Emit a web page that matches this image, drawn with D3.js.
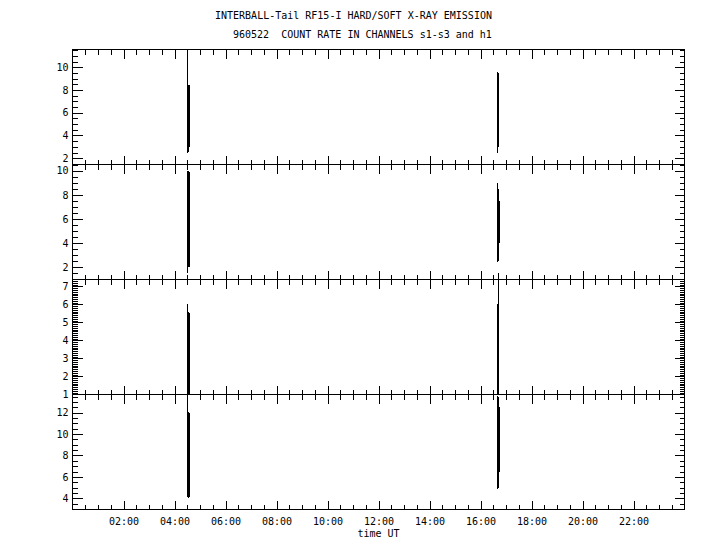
<!DOCTYPE html>
<html>
<head>
<script src="https://d3js.org/d3.v7.min.js"></script>
<style>
  body { margin: 0; background: #fff; }
  svg { display: block; }
  text { font-family: "DejaVu Sans Mono", monospace; font-size: 10px; fill: #000; white-space: pre; }
  .tick line, .frame { stroke: #000; shape-rendering: crispEdges; }
  .trace { fill: none; stroke: #000; stroke-width: 1; shape-rendering: crispEdges; }
</style>
</head>
<body>
<svg width="720" height="550"></svg>
<script>
// count rates, time in hours UT
var s1Time = [4.52, 4.53, 4.55, 4.56, 4.57, 4.58, 16.67, 16.68, 16.69, 16.70, 16.71];
var s1Rate = [11.1, 2.45, 8.45, 2.9, 8.4, 3.0, 2.45, 9.55, 2.95, 9.5, 3.0];

var s2Time = [4.52, 4.53, 4.55, 4.56, 4.58, 4.59, 4.60, 16.67, 16.68, 16.69, 16.70, 16.71, 16.72, 16.73, 16.74, 16.75, 16.76];
var s2Rate = [1.5, 10.0, 2.0, 10.0, 2.0, 9.9, 2.1, 9.0, 2.45, 8.45, 2.5, 8.4, 2.6, 7.5, 4.0, 7.5, 4.0];

var s3Time = [4.52, 4.53, 4.55, 4.56, 4.57, 4.58, 16.67, 16.68, 16.69, 16.70, 16.72, 16.72];
var s3Rate = [6.0, 0.99, 5.55, 0.99, 5.5, 0.99, 6.0, 0.99, 6.0, 0.99, 7.75, 0.99];

var h1Time = [4.52, 4.53, 4.55, 4.56, 4.57, 4.58, 16.67, 16.68, 16.69, 16.70, 16.72, 16.73, 16.74, 16.75];
var h1Rate = [13.6, 4.1, 12.1, 4.05, 12.0, 4.1, 13.6, 4.9, 13.5, 5.0, 12.5, 6.5, 12.5, 6.5];

// y ranges and tick labels per panel
var yRanges = [[1.45, 11.56], [0.99, 10.51], [0.99, 7.38], [2.95, 13.7]];
var yLabels = [[2, 4, 6, 8, 10], [2, 4, 6, 8, 10], [1, 2, 3, 4, 5, 6, 7], [4, 6, 8, 10, 12]];
var yMinorStep = [0.5, 0.5, 0.1, 0.5];

var timeMajor = [2, 4, 6, 8, 10, 12, 14, 16, 18, 20, 22];
var timeLabels = ["02:00", "04:00", "06:00", "08:00", "10:00", "12:00",
                  "14:00", "16:00", "18:00", "20:00", "22:00"];

var svg = d3.select("svg");
var left = 72.5, right = 684.5, top0 = 49.5, panelH = 115;

var x = d3.scaleLinear().domain([0, 24]).range([left, right]);
var timeMinor = d3.range(0.5, 24, 0.5);

// title
svg.append("text").attr("x", 215).attr("y", 18.5)
  .text("INTERBALL-Tail RF15-I HARD/SOFT X-RAY EMISSION");
svg.append("text").attr("x", 233).attr("y", 38)
  .text("960522  COUNT RATE IN CHANNELS s1-s3 and h1");

var series = [[s1Time, s1Rate], [s2Time, s2Rate], [s3Time, s3Rate], [h1Time, h1Rate]];

series.forEach(function(s, i) {
  var y0 = top0 + i * panelH, y1 = y0 + panelH;
  var y = d3.scaleLinear().domain(yRanges[i]).range([y1, y0]);
  var g = svg.append("g");

  var minors = d3.range(Math.ceil(yRanges[i][0] / yMinorStep[i] - 1e-6) * yMinorStep[i], yRanges[i][1], yMinorStep[i])
    .map(function(v) { return Math.round(v * 100) / 100; });

  function yAxes(values, size, labels) {
    var l = g.append("g").attr("transform", "translate(" + left + ",0)")
      .call(d3.axisLeft(y).tickValues(values).tickSize(-size).tickPadding(4)
        .tickFormat(labels ? d3.format("d") : ""));
    l.select(".domain").remove();
    var r = g.append("g").attr("transform", "translate(" + right + ",0)")
      .call(d3.axisLeft(y).tickValues(values).tickSize(size).tickFormat(""));
    r.select(".domain").remove();
  }
  yAxes(minors, 5, false);
  yAxes(yLabels[i], 10, true);

  function xAxes(values, size, labels) {
    var t = g.append("g").attr("transform", "translate(0," + y0 + ")")
      .call(d3.axisTop(x).tickValues(values).tickSize(-size).tickFormat(""));
    t.select(".domain").remove();
    var b = g.append("g").attr("transform", "translate(0," + y1 + ")")
      .call(d3.axisBottom(x).tickValues(values).tickSize(-size).tickPadding(8)
        .tickFormat(labels ? function(d, k) { return timeLabels[k]; } : ""));
    b.select(".domain").remove();
  }
  xAxes(timeMinor, 5, false);
  xAxes(timeMajor, 9, i === 3);

  g.append("rect").attr("class", "frame")
    .attr("x", left).attr("y", y0).attr("width", right - left).attr("height", panelH)
    .attr("fill", "none");

  // split into segments where data gaps exceed half an hour
  var pts = s[0].map(function(t, k) { return [t, s[1][k]]; });
  var segs = [[pts[0]]];
  for (var k = 1; k < pts.length; k++) {
    if (pts[k][0] - pts[k - 1][0] > 0.5) segs.push([]);
    segs[segs.length - 1].push(pts[k]);
  }
  var line = d3.line().x(function(d) { return x(d[0]); }).y(function(d) { return y(d[1]); });
  g.selectAll(".trace").data(segs).enter().append("path")
    .attr("class", "trace").attr("d", line);
});

svg.selectAll(".tick text").style("font-family", "DejaVu Sans Mono, monospace").style("font-size", "10px");

svg.append("text").attr("x", (left + right) / 2).attr("y", 537)
  .attr("text-anchor", "middle").text("time UT");
</script>
</body>
</html>
